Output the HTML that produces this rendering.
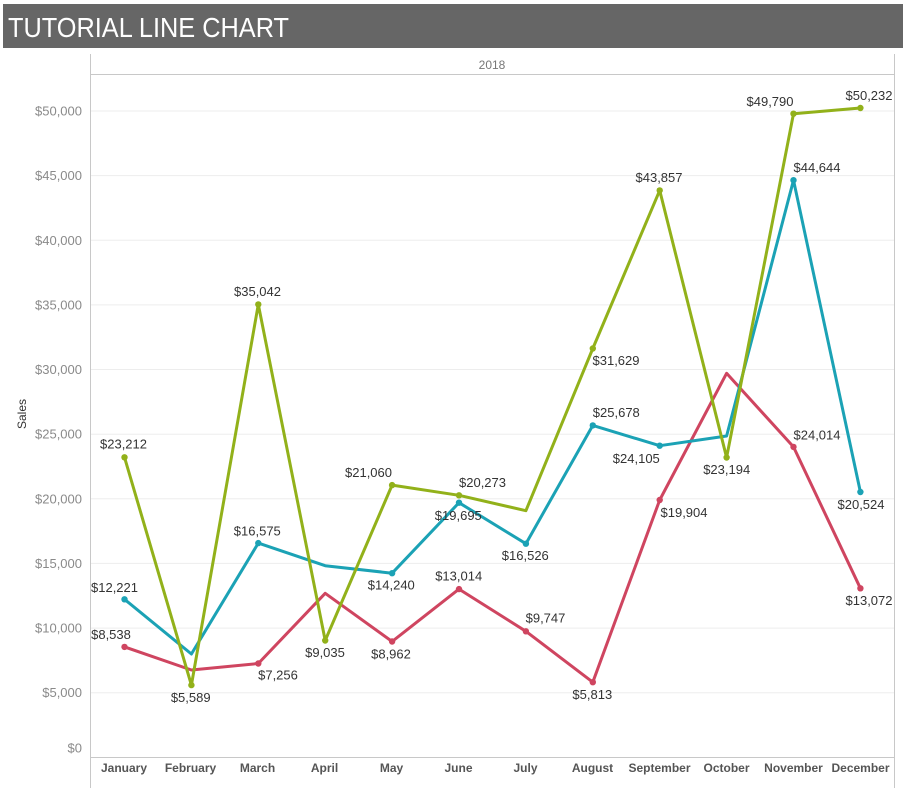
<!DOCTYPE html>
<html>
<head>
<meta charset="utf-8">
<style>
  html, body { margin:0; padding:0; background:#fff; }
  body { width:903px; height:788px; overflow:hidden; }
  svg { display:block; }
  text { font-family: "Liberation Sans", Arial, sans-serif; }
  .lbl { font-size:13px; fill:#333; text-anchor:middle; }
  .yt { font-size:13px; fill:#8a8a8a; text-anchor:end; }
  .xt { font-size:12px; fill:#555; font-weight:bold; text-anchor:middle; }
</style>
</head>
<body>
<svg width="903" height="788" viewBox="0 0 903 788" xmlns="http://www.w3.org/2000/svg">
  <!-- Title bar -->
  <rect x="3" y="4" width="900" height="44" fill="#666666"/>
  <text x="8" y="37" font-size="28" fill="#ffffff" textLength="281" lengthAdjust="spacingAndGlyphs">TUTORIAL LINE CHART</text>

  <!-- Gridlines -->
  <g stroke="#ededed" stroke-width="1">
    <line x1="90" y1="111.0" x2="894" y2="111.0"/>
    <line x1="90" y1="175.6" x2="894" y2="175.6"/>
    <line x1="90" y1="240.3" x2="894" y2="240.3"/>
    <line x1="90" y1="304.9" x2="894" y2="304.9"/>
    <line x1="90" y1="369.5" x2="894" y2="369.5"/>
    <line x1="90" y1="434.2" x2="894" y2="434.2"/>
    <line x1="90" y1="498.8" x2="894" y2="498.8"/>
    <line x1="90" y1="563.4" x2="894" y2="563.4"/>
    <line x1="90" y1="628.1" x2="894" y2="628.1"/>
    <line x1="90" y1="692.7" x2="894" y2="692.7"/>
  </g>

  <!-- Axes / frame -->
  <g stroke="#c8c8c8" stroke-width="1">
    <line x1="90.5" y1="54" x2="90.5" y2="788"/>
    <line x1="894.5" y1="54" x2="894.5" y2="788"/>
    <line x1="90" y1="74.5" x2="894" y2="74.5"/>
    <line x1="90" y1="757.5" x2="894" y2="757.5"/>
  </g>

  <!-- Header -->
  <text x="492" y="69" font-size="12" fill="#777" text-anchor="middle">2018</text>

  <!-- Y axis title -->
  <text x="26" y="414" font-size="12" fill="#333" text-anchor="middle" transform="rotate(-90 26 414)">Sales</text>

  <!-- Y tick labels -->
  <text class="yt" x="82" y="115.5">$50,000</text>
  <text class="yt" x="82" y="180.1">$45,000</text>
  <text class="yt" x="82" y="244.8">$40,000</text>
  <text class="yt" x="82" y="309.4">$35,000</text>
  <text class="yt" x="82" y="374.0">$30,000</text>
  <text class="yt" x="82" y="438.7">$25,000</text>
  <text class="yt" x="82" y="503.3">$20,000</text>
  <text class="yt" x="82" y="567.9">$15,000</text>
  <text class="yt" x="82" y="632.6">$10,000</text>
  <text class="yt" x="82" y="697.2">$5,000</text>
  <text class="yt" x="82" y="752.5">$0</text>

  <!-- X labels -->
  <text class="xt" x="124" y="772">January</text>
  <text class="xt" x="190.5" y="772">February</text>
  <text class="xt" x="257.5" y="772">March</text>
  <text class="xt" x="324.5" y="772">April</text>
  <text class="xt" x="391.5" y="772">May</text>
  <text class="xt" x="458.5" y="772">June</text>
  <text class="xt" x="525.5" y="772">July</text>
  <text class="xt" x="592.5" y="772">August</text>
  <text class="xt" x="659.5" y="772">September</text>
  <text class="xt" x="726.5" y="772">October</text>
  <text class="xt" x="793.5" y="772">November</text>
  <text class="xt" x="860.5" y="772">December</text>

  <!-- Red series -->
  <g stroke="#cf4560" fill="none" stroke-width="3" stroke-linejoin="round" stroke-linecap="round">
    <polyline points="124.5,646.9 191.4,670.0 258.3,663.5 325.2,593.3 392.1,641.5 459.0,589.1 525.9,631.3 592.8,682.2 659.7,500.0 726.6,373.3 793.5,446.9 860.4,588.3"/>
  </g>
  <g fill="#cf4560">
    <circle cx="124.5" cy="646.9" r="3.2"/>
    <circle cx="258.3" cy="663.5" r="3.2"/>
    <circle cx="392.1" cy="641.5" r="3.2"/>
    <circle cx="459.0" cy="589.1" r="3.2"/>
    <circle cx="525.9" cy="631.3" r="3.2"/>
    <circle cx="592.8" cy="682.2" r="3.2"/>
    <circle cx="659.7" cy="500.0" r="3.2"/>
    <circle cx="793.5" cy="446.9" r="3.2"/>
    <circle cx="860.4" cy="588.3" r="3.2"/>
  </g>

  <!-- Teal series -->
  <g stroke="#1ba2b5" fill="none" stroke-width="3" stroke-linejoin="round" stroke-linecap="round">
    <polyline points="124.5,599.3 191.4,654.0 258.3,543.1 325.2,565.7 392.1,573.2 459.0,502.7 525.9,543.7 592.8,425.4 659.7,445.7 726.6,436.0 793.5,180.2 860.4,492.0"/>
  </g>
  <g fill="#1ba2b5">
    <circle cx="124.5" cy="599.3" r="3.2"/>
    <circle cx="258.3" cy="543.1" r="3.2"/>
    <circle cx="392.1" cy="573.2" r="3.2"/>
    <circle cx="459.0" cy="502.7" r="3.2"/>
    <circle cx="525.9" cy="543.7" r="3.2"/>
    <circle cx="592.8" cy="425.4" r="3.2"/>
    <circle cx="659.7" cy="445.7" r="3.2"/>
    <circle cx="793.5" cy="180.2" r="3.2"/>
    <circle cx="860.4" cy="492.0" r="3.2"/>
  </g>

  <!-- Green series -->
  <g stroke="#92b11a" fill="none" stroke-width="3" stroke-linejoin="round" stroke-linecap="round">
    <polyline points="124.5,457.3 191.4,685.1 258.3,304.4 325.2,640.5 392.1,485.1 459.0,495.3 525.9,510.7 592.8,348.5 659.7,190.4 726.6,457.5 793.5,113.7 860.4,108.0"/>
  </g>
  <g fill="#92b11a">
    <circle cx="124.5" cy="457.3" r="3.2"/>
    <circle cx="191.4" cy="685.1" r="3.2"/>
    <circle cx="258.3" cy="304.4" r="3.2"/>
    <circle cx="325.2" cy="640.5" r="3.2"/>
    <circle cx="392.1" cy="485.1" r="3.2"/>
    <circle cx="459.0" cy="495.3" r="3.2"/>
    <circle cx="592.8" cy="348.5" r="3.2"/>
    <circle cx="659.7" cy="190.4" r="3.2"/>
    <circle cx="726.6" cy="457.5" r="3.2"/>
    <circle cx="793.5" cy="113.7" r="3.2"/>
    <circle cx="860.4" cy="108.0" r="3.2"/>
  </g>

  <!-- Green labels -->
  <text class="lbl" x="123.5" y="448.5">$23,212</text>
  <text class="lbl" x="190.7" y="701.8">$5,589</text>
  <text class="lbl" x="257.5" y="296.2">$35,042</text>
  <text class="lbl" x="325" y="657.2">$9,035</text>
  <text class="lbl" x="368.5" y="477.2">$21,060</text>
  <text class="lbl" x="482.5" y="486.8">$20,273</text>
  <text class="lbl" x="616" y="365.2">$31,629</text>
  <text class="lbl" x="659" y="181.8">$43,857</text>
  <text class="lbl" x="726.7" y="473.8">$23,194</text>
  <text class="lbl" x="770" y="106.2">$49,790</text>
  <text class="lbl" x="869" y="100.2">$50,232</text>

  <!-- Teal labels -->
  <text class="lbl" x="114.5" y="591.8">$12,221</text>
  <text class="lbl" x="257.3" y="535.5">$16,575</text>
  <text class="lbl" x="391.3" y="589.5">$14,240</text>
  <text class="lbl" x="458.3" y="520.2">$19,695</text>
  <text class="lbl" x="525.3" y="560.2">$16,526</text>
  <text class="lbl" x="616.3" y="416.8">$25,678</text>
  <text class="lbl" x="636.3" y="462.8">$24,105</text>
  <text class="lbl" x="817" y="172.2">$44,644</text>
  <text class="lbl" x="861" y="508.8">$20,524</text>

  <!-- Red labels -->
  <text class="lbl" x="111" y="639.2">$8,538</text>
  <text class="lbl" x="278" y="679.5">$7,256</text>
  <text class="lbl" x="391" y="658.5">$8,962</text>
  <text class="lbl" x="458.7" y="580.5">$13,014</text>
  <text class="lbl" x="545.5" y="622.5">$9,747</text>
  <text class="lbl" x="592.3" y="698.8">$5,813</text>
  <text class="lbl" x="684" y="516.8">$19,904</text>
  <text class="lbl" x="817" y="439.5">$24,014</text>
  <text class="lbl" x="869" y="605.2">$13,072</text>
</svg>
</body>
</html>
